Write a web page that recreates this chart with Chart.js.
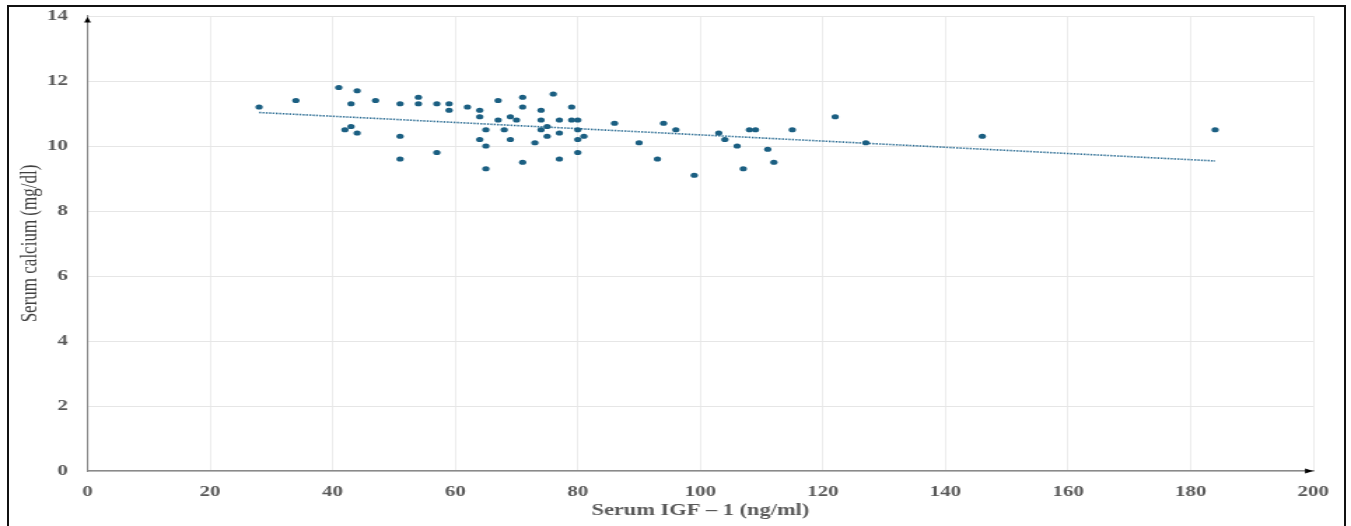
<!DOCTYPE html>
<html>
<head>
<meta charset="utf-8">
<script src="https://cdn.jsdelivr.net/npm/chart.js@4.4.0/dist/chart.umd.min.js"></script>
<style>
  html, body { margin: 0; padding: 0; background: #fff; overflow: hidden; }
  #wrap { position: relative; width: 1351px; height: 526px; }
  #chart { position: absolute; left: 0; top: 0; }
  #frame { position: absolute; left: 7px; top: 5px; width: 1335px; height: 600px; border: 2px solid #111; }
</style>
</head>
<body>
<div id="wrap">
  <!-- the source picture is stretched sideways, so the canvas is drawn narrow and widened by css -->
  <canvas id="chart" width="965" height="526" style="width:1351px;height:526px"></canvas>
  <div id="frame"></div>
</div>
<script>
// Serum IGF-1 (ng/ml)
const igf = [28, 34, 41, 42, 43, 43, 44, 44, 47, 51, 51, 51, 54, 54, 57, 57, 59, 59, 62, 64,
             64, 64, 65, 65, 65, 67, 67, 68, 69, 69, 70, 71, 71, 71, 73, 74, 74, 74, 75, 75,
             76, 77, 77, 77, 79, 79, 80, 80, 80, 80, 81, 86, 90, 93, 94, 96, 99, 103, 104, 106,
             107, 108, 109, 111, 112, 115, 122, 127, 146, 184];
// Serum calcium (mg/dl)
const calcium = [11.2, 11.4, 11.8, 10.5, 11.3, 10.6, 11.7, 10.4, 11.4, 11.3, 10.3, 9.6, 11.5, 11.3, 11.3, 9.8, 11.3, 11.1, 11.2, 11.1,
                 10.9, 10.2, 10.5, 10.0, 9.3, 11.4, 10.8, 10.5, 10.9, 10.2, 10.8, 11.5, 11.2, 9.5, 10.1, 11.1, 10.8, 10.5, 10.6, 10.3,
                 11.6, 10.8, 10.4, 9.6, 11.2, 10.8, 10.8, 10.5, 10.2, 9.8, 10.3, 10.7, 10.1, 9.6, 10.7, 10.5, 9.1, 10.4, 10.2, 10.0,
                 9.3, 10.5, 10.5, 9.9, 9.5, 10.5, 10.9, 10.1, 10.3, 10.5];
// linear trendline end points
const trendX = [28, 184];
const trendY = [11.03, 9.54];

const xTicks = [0, 20, 40, 60, 80, 100, 120, 140, 160, 180, 200];
const yTicks = [0, 2, 4, 6, 8, 10, 12, 14];

const dotColor = '#1b5f82';
const labelColor = '#595959';
const gridColor = '#e6e6e6';
const axisColor = '#8a8a8a';

const arrowHeads = {
  id: 'arrowHeads',
  afterDraw(chart) {
    const {ctx, chartArea: a} = chart;
    ctx.save();
    ctx.fillStyle = '#000';
    // x axis arrow, right end
    ctx.beginPath();
    ctx.moveTo(a.right, a.bottom);
    ctx.lineTo(a.right - 5.8, a.bottom - 2.6);
    ctx.lineTo(a.right - 5.8, a.bottom + 2.6);
    ctx.closePath();
    ctx.fill();
    // y axis arrow, top end
    ctx.beginPath();
    ctx.moveTo(a.left, a.top + 1);
    ctx.lineTo(a.left - 2.4, a.top + 6.5);
    ctx.lineTo(a.left + 2.4, a.top + 6.5);
    ctx.closePath();
    ctx.fill();
    ctx.restore();
  }
};

new Chart(document.getElementById('chart'), {
  type: 'scatter',
  data: {
    datasets: [{
      label: 'Serum calcium',
      data: igf.map((v, i) => ({x: v, y: calcium[i]})),
      pointStyle: 'circle',
      pointRadius: 2.6,
      pointBackgroundColor: dotColor,
      pointBorderWidth: 0,
      order: 1
    }, {
      type: 'line',
      label: 'Linear trend',
      data: trendX.map((v, i) => ({x: v, y: trendY[i]})),
      borderColor: '#2f6f95',
      borderWidth: 1.6,
      borderDash: [1.4, 1.0],
      pointRadius: 0,
      fill: false,
      order: 2
    }]
  },
  options: {
    responsive: false,
    animation: false,
    layout: {padding: {top: 16, right: 27, left: 0, bottom: 0}},
    plugins: {legend: {display: false}, tooltip: {enabled: false}},
    scales: {
      x: {
        type: 'linear',
        min: 0,
        max: 200,
        afterBuildTicks: s => { s.ticks = xTicks.map(v => ({value: v})); },
        afterFit: s => { s.height = 55; s.paddingLeft = 0; s.paddingRight = 0; },
        grid: {color: gridColor, lineWidth: 0.75, drawTicks: false},
        border: {color: axisColor, width: 1.5},
        ticks: {
          padding: 12,
          color: labelColor,
          font: {family: "'Liberation Serif', 'Times New Roman', serif", size: 15, weight: 'bold'}
        },
        title: {
          display: true,
          text: 'Serum IGF – 1 (ng/ml)',
          color: labelColor,
          padding: {top: 0, bottom: 5.4},
          font: {family: "'Liberation Serif', 'Times New Roman', serif", size: 16, weight: 'bold'}
        }
      },
      y: {
        min: 0,
        max: 14,
        afterBuildTicks: s => { s.ticks = yTicks.map(v => ({value: v})); },
        afterFit: s => { s.width = 62.5; s.paddingTop = 0; s.paddingBottom = 0; },
        grid: {color: gridColor, lineWidth: 1, drawTicks: false},
        border: {color: axisColor, width: 1.1},
        ticks: {
          padding: 14,
          color: labelColor,
          font: {family: "'Liberation Serif', 'Times New Roman', serif", size: 15, weight: 'bold'}
        },
        title: {
          display: true,
          text: 'Serum calcium (mg/dl)',
          color: '#404040',
          padding: {top: 11.2, bottom: 0},
          font: {family: "'Liberation Serif', 'Times New Roman', serif", size: 17}
        }
      }
    }
  },
  plugins: [arrowHeads]
});
</script>
</body>
</html>
